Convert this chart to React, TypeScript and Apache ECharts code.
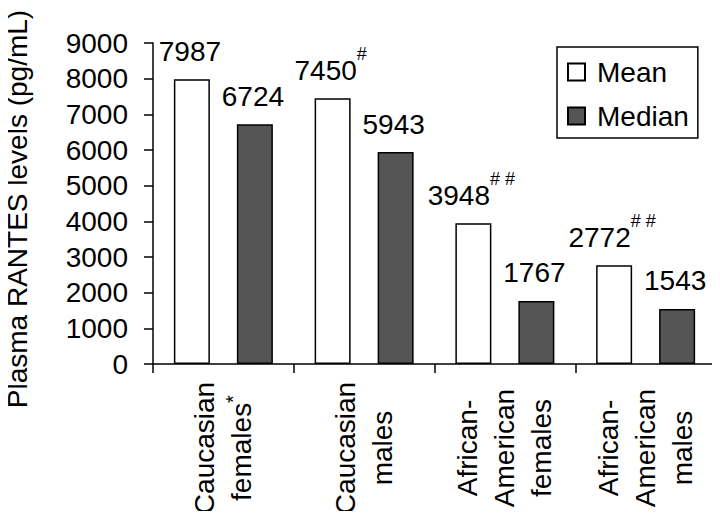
import React, { useEffect, useRef } from "react";
import * as echarts from "echarts";

const categories = [
  "Caucasian\nfemales*",
  "Caucasian\nmales",
  "African-\nAmerican\nfemales",
  "African-\nAmerican\nmales",
];
const meanValues = [7987, 7450, 3948, 2772];
const medianValues = [6724, 5943, 1767, 1543];
const meanMarks = ["", "#", "# #", "# #"];
const yTicks = { min: 0, max: 9000, interval: 1000 };
const yName = "Plasma RANTES levels (pg/mL)";

const FONT = "'Liberation Sans', Arial, sans-serif";

export default function App() {
  const ref = useRef<HTMLDivElement>(null);
  useEffect(() => {
    if (!ref.current) return;
    const chart = echarts.init(ref.current, undefined, { renderer: "svg" });
    const catLabel = (s: string) =>
      s
        .split("\n")
        .map((line) =>
          line.endsWith("*") ? `{n|${line.slice(0, -1)}}{s|*}` : `{n|${line}}`
        )
        .join("\n");
    chart.setOption({
      animation: false,
      backgroundColor: "#fff",
      textStyle: { fontFamily: FONT, color: "#000" },
      grid: {
        left: 153,
        right: 4,
        top: 43,
        bottom: 155,
        containLabel: false,
        outerBoundsMode: "none",
      },
      legend: {
        orient: "vertical",
        left: 557,
        top: 47,
        padding: [11, 9, 8, 10],
        itemGap: 16,
        itemWidth: 17,
        itemHeight: 17,
        icon: "rect",
        borderColor: "#000",
        borderWidth: 1.5,
        textStyle: {
          fontFamily: FONT,
          fontSize: 28,
          lineHeight: 27,
          color: "#000",
          padding: [0, 0, 0, 7],
        },
        data: ["Mean", "Median"],
      },
      xAxis: {
        type: "category",
        data: categories,
        axisLine: { lineStyle: { color: "#000", width: 1.5 } },
        axisTick: { show: true, length: 9, lineStyle: { color: "#000", width: 1.5 } },
        axisLabel: {
          interval: 0,
          rotate: 90,
          align: "center",
          verticalAlign: "middle",
          margin: 84,
          formatter: (v: string) => catLabel(v),
          rich: {
            n: { fontFamily: FONT, fontSize: 28, lineHeight: 37, color: "#000" },
            s: {
              fontFamily: FONT,
              fontSize: 20,
              lineHeight: 20,
              color: "#000",
              verticalAlign: "top",
            },
          },
        },
      },
      yAxis: {
        type: "value",
        min: yTicks.min,
        max: yTicks.max,
        interval: yTicks.interval,
        name: yName,
        nameLocation: "middle",
        nameGap: 122,
        nameRotate: 90,
        nameTextStyle: {
          fontFamily: FONT,
          fontSize: 28,
          color: "#000",
          padding: [0, 11, 0, 0],
        },
        axisLine: { show: true, lineStyle: { color: "#000", width: 1.5 } },
        axisTick: { show: true, length: 9, lineStyle: { color: "#000", width: 1.5 } },
        splitLine: { show: false },
        axisLabel: {
          fontFamily: FONT,
          fontSize: 28,
          color: "#000",
          margin: 25,
          formatter: (v: number) => String(v),
        },
      },
      series: [
        {
          name: "Mean",
          type: "bar",
          data: meanValues,
          barWidth: 36,
          barGap: "75%",
          itemStyle: { color: "#fff", borderColor: "#000", borderWidth: 1.5 },
          label: {
            show: true,
            position: "top",
            distance: 25,
            offset: [-2, 0],
            formatter: (p: any) => {
              const m = meanMarks[p.dataIndex];
              return m ? `{v|${p.value}}{s|${m}}` : `{v|${p.value}}`;
            },
            rich: {
              v: {
                fontFamily: FONT,
                fontSize: 28,
                lineHeight: 28,
                color: "#000",
                verticalAlign: "top",
                padding: [11, 0, 0, 0],
              },
              s: {
                fontFamily: FONT,
                fontSize: 18,
                lineHeight: 18,
                color: "#000",
                verticalAlign: "top",
              },
            },
          },
        },
        {
          name: "Median",
          type: "bar",
          data: medianValues,
          barWidth: 36,
          barGap: "75%",
          itemStyle: { color: "#555555", borderColor: "#000", borderWidth: 1.5 },
          label: {
            show: true,
            position: "top",
            distance: 14,
            offset: [-2, 0],
            fontFamily: FONT,
            fontSize: 28,
            lineHeight: 28,
            color: "#000",
          },
        },
      ],
    });
    return () => chart.dispose();
  }, []);
  return <div ref={ref} style={{ width: 720, height: 519, margin: -8 }} />;
}
